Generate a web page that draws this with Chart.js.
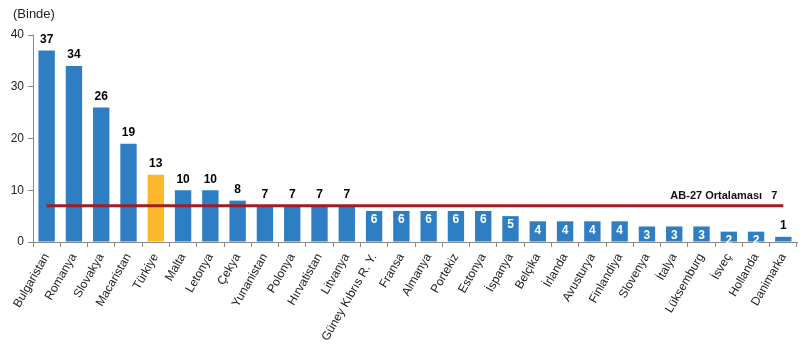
<!DOCTYPE html>
<html>
<head>
<meta charset="utf-8">
<script src="https://cdn.jsdelivr.net/npm/chart.js@4"></script>
<style>
  html, body { margin: 0; padding: 0; background: #fff; }
  #wrap { position: relative; width: 805px; height: 346px; }
  #unit { position: absolute; left: 13px; top: 6px; font: 13px "Liberation Sans", Arial, sans-serif; color: #222; }
</style>
</head>
<body>
<div id="wrap">
  <canvas id="rateChart" width="805" height="346"></canvas>
  <div id="unit">(Binde)</div>
</div>
<script>
// ülkeler ve binde oranlar
const countries = ['Bulgaristan', 'Romanya', 'Slovakya', 'Macaristan', 'Türkiye', 'Malta', 'Letonya', 'Çekya',
    'Yunanistan', 'Polonya', 'Hırvatistan', 'Litvanya', 'Güney Kıbrıs R. Y.', 'Fransa', 'Almanya', 'Portekiz',
    'Estonya', 'İspanya', 'Belçika', 'İrlanda', 'Avusturya', 'Finlandiya', 'Slovenya', 'İtalya', 'Lüksemburg',
    'İsveç', 'Hollanda', 'Danimarka'];
const rates = [37, 34, 26, 19, 13, 10, 10, 8, 7, 7, 7, 7, 6, 6, 6, 6, 6, 5, 4, 4, 4, 4, 3, 3, 3, 2, 2, 1];
const euAverage = 7;
const euLabel = 'AB-27 Ortalaması';
const yTicks = [0, 10, 20, 30, 40];

const BLUE = '#2e7ec3';
const ORANGE = '#fbb829';
const RED = '#a01d21';

document.addEventListener("DOMContentLoaded", function () {
    const barColors = countries.map(c => c === 'Türkiye' ? ORANGE : BLUE);

    // değer etiketleri + ortalama yazısı
    const valueLabels = {
        id: 'valueLabels',
        afterDatasetsDraw(chart) {
            const ctx = chart.ctx;
            const meta = chart.getDatasetMeta(0);
            ctx.save();
            ctx.font = 'bold 12px "Liberation Sans", Arial, sans-serif';
            ctx.textAlign = 'center';
            meta.data.forEach((bar, i) => {
                const v = rates[i];
                if (v >= euAverage || v < 2) {
                    ctx.fillStyle = '#000';
                    ctx.textBaseline = 'bottom';
                    ctx.fillText(v, bar.x, bar.y - 5);
                } else {
                    ctx.fillStyle = '#fff';
                    ctx.textBaseline = 'top';
                    ctx.fillText(v, bar.x, bar.y + 3);
                }
            });
            // ortalama çizgisinin sağ ucunun üstüne
            const line = chart.getDatasetMeta(1).data;
            const last = line[line.length - 1];
            ctx.font = 'bold 11px "Liberation Sans", Arial, sans-serif';
            ctx.fillStyle = '#111';
            ctx.textAlign = 'right';
            ctx.textBaseline = 'alphabetic';
            ctx.fillText(euLabel + '   ' + euAverage, last.x - 6, last.y - 7);
            ctx.restore();
        }
    };

    new Chart(document.getElementById('rateChart').getContext('2d'), {
        type: 'bar',
        data: {
            labels: countries,
            datasets: [
                {
                    label: 'Oran',
                    data: rates,
                    backgroundColor: barColors,
                    barPercentage: 0.6,
                    categoryPercentage: 1,
                    order: 2
                },
                {
                    type: 'line',
                    label: euLabel,
                    data: countries.map(() => euAverage),
                    borderColor: RED,
                    borderWidth: 3,
                    pointRadius: 0,
                    fill: false,
                    order: 1
                }
            ]
        },
        plugins: [valueLabels],
        options: {
            responsive: false,
            animation: false,
            layout: { padding: { top: 35, right: 8 } },
            plugins: { legend: { display: false }, tooltip: { enabled: false } },
            scales: {
                x: {
                    grid: { display: true, drawOnChartArea: false, color: '#888', tickLength: 5, offset: true },
                    border: { color: '#888' },
                    ticks: {
                        color: '#222',
                        padding: 4,
                        font: { family: '"Liberation Sans", Arial, sans-serif', size: 12 },
                        minRotation: 60, maxRotation: 60, autoSkip: false
                    },
                    afterFit(scale) { scale.height = 104; }
                },
                y: {
                    min: 0, max: 40,
                    grid: { display: true, drawOnChartArea: false, color: '#888', tickLength: 5 },
                    border: { color: '#888' },
                    afterBuildTicks(scale) { scale.ticks = yTicks.map(v => ({ value: v })); },
                    ticks: {
                        color: '#222',
                        padding: 4,
                        font: { family: '"Liberation Sans", Arial, sans-serif', size: 12 }
                    },
                    afterFit(scale) { scale.width = 33; }
                }
            }
        }
    });
});
</script>
</body>
</html>
